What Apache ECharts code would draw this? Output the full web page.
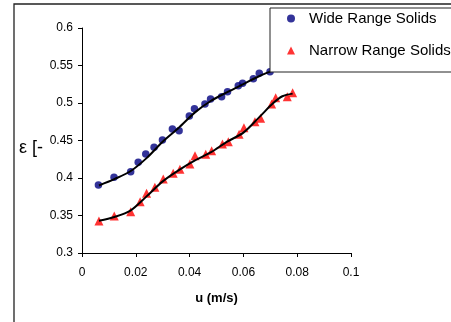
<!DOCTYPE html>
<html>
<head>
<meta charset="utf-8">
<script src="https://cdn.jsdelivr.net/npm/echarts@6/dist/echarts.min.js"></script>
<style>
html,body{margin:0;padding:0;background:#fff;}
#main{width:451px;height:322px;}
</style>
</head>
<body>
<div id="main"></div>
<script>
var wideRange = [
    [0.0061, 0.3907], [0.0119, 0.401], [0.0181, 0.4084], [0.0209, 0.421], [0.0237, 0.432],
    [0.0268, 0.441], [0.0299, 0.4507], [0.0336, 0.4653], [0.0361, 0.463], [0.0399, 0.4827],
    [0.0418, 0.4924], [0.0457, 0.4987], [0.0478, 0.5053], [0.0519, 0.5084], [0.0541, 0.515],
    [0.0581, 0.5231], [0.0597, 0.5262], [0.0637, 0.5324], [0.0659, 0.5396], [0.0699, 0.5418]
];
var narrowRange = [
    [0.0063, 0.3427], [0.012, 0.3493], [0.0181, 0.3551], [0.0216, 0.3684], [0.024, 0.3796],
    [0.0271, 0.3876], [0.0302, 0.3987], [0.0339, 0.4062], [0.0364, 0.4116], [0.0401, 0.4187],
    [0.042, 0.4298], [0.046, 0.4316], [0.0482, 0.4364], [0.0522, 0.4453], [0.0544, 0.4484],
    [0.0584, 0.4582], [0.0602, 0.467], [0.0643, 0.4751], [0.0664, 0.4796], [0.0705, 0.4987],
    [0.072, 0.5071], [0.0763, 0.5084], [0.0783, 0.5138]
];
// trend lines
var wideFit = [
    [0.0063, 0.390], [0.012, 0.3985], [0.018, 0.409], [0.024, 0.4265], [0.030, 0.4484],
    [0.036, 0.467], [0.042, 0.4875], [0.048, 0.503], [0.054, 0.5145], [0.060, 0.5253],
    [0.066, 0.536], [0.070, 0.5418]
];
var narrowFit = [
    [0.0063, 0.343], [0.012, 0.348], [0.018, 0.3565], [0.024, 0.3755], [0.030, 0.3955],
    [0.036, 0.4105], [0.042, 0.4235], [0.048, 0.4345], [0.054, 0.4485], [0.060, 0.4605],
    [0.066, 0.4815], [0.071, 0.4996], [0.0745, 0.509], [0.0783, 0.5125]
];
var seriesNames = ['Wide Range Solids', 'Narrow Range Solids'];
var xTicks = {min: 0, max: 0.1, step: 0.02};
var yTicks = {min: 0.3, max: 0.6, step: 0.05};

var font = "'Liberation Sans', Arial, sans-serif";
var myChart = echarts.init(document.getElementById('main'));
var option = {
    animation: false,
    backgroundColor: '#fff',
    grid: {left: 82, top: 28, right: 100, bottom: 69},
    legend: {
        orient: 'vertical',
        left: 287,
        top: 11,
        padding: 0,
        itemWidth: 8,
        itemHeight: 8,
        itemGap: 17,
        z: 20,
        textStyle: {fontFamily: font, fontSize: 15, color: '#000', padding: [0, 0, 0, 9]},
        data: [{name: seriesNames[0], icon: 'circle'}, {name: seriesNames[1], icon: 'triangle'}]
    },
    xAxis: {
        type: 'value',
        min: xTicks.min, max: xTicks.max, interval: xTicks.step,
        name: 'u (m/s)',
        nameLocation: 'middle',
        nameGap: 39,
        nameTextStyle: {fontFamily: font, fontSize: 13, fontWeight: 'bold', color: '#000'},
        axisLine: {lineStyle: {color: '#000', width: 1}},
        axisTick: {length: 4, lineStyle: {color: '#000'}},
        axisLabel: {fontFamily: font, fontSize: 12, color: '#000', margin: 14},
        splitLine: {show: false}
    },
    yAxis: {
        type: 'value',
        min: yTicks.min, max: yTicks.max, interval: yTicks.step,
        axisLine: {show: true, lineStyle: {color: '#000', width: 1}},
        axisTick: {show: true, length: 4, lineStyle: {color: '#000'}},
        axisLabel: {fontFamily: font, fontSize: 12, color: '#000', margin: 9},
        splitLine: {show: false}
    },
    graphic: [
        {type: 'rect', z: 0, shape: {x: 14, y: 4, width: 600, height: 500},
            style: {fill: 'none', stroke: '#222', lineWidth: 1.3}},
        {type: 'rect', z: 10, shape: {x: 270, y: 8, width: 300, height: 64},
            style: {fill: '#fff', stroke: '#222', lineWidth: 1}},
        {type: 'text', z: 10, left: 19, top: 139,
            style: {text: 'ε [-', fontFamily: font, fontSize: 18, fill: '#000'}}
    ],
    series: [
        {
            name: seriesNames[0], type: 'scatter', data: wideRange,
            symbol: 'circle', symbolSize: 7.5, z: 2,
            itemStyle: {color: '#000080'}
        },
        {
            name: seriesNames[1], type: 'scatter', data: narrowRange,
            symbol: 'triangle', symbolSize: 9, z: 2,
            itemStyle: {color: '#ff0000'}
        },
        {
            name: 'wideFit', type: 'line', data: wideFit, smooth: 0.3,
            showSymbol: false, symbol: 'none', z: 3,
            lineStyle: {color: '#000', width: 2}
        },
        {
            name: 'narrowFit', type: 'line', data: narrowFit, smooth: 0.3,
            showSymbol: false, symbol: 'none', z: 3,
            lineStyle: {color: '#000', width: 2}
        }
    ]
};
myChart.setOption(option);
</script>
</body>
</html>
